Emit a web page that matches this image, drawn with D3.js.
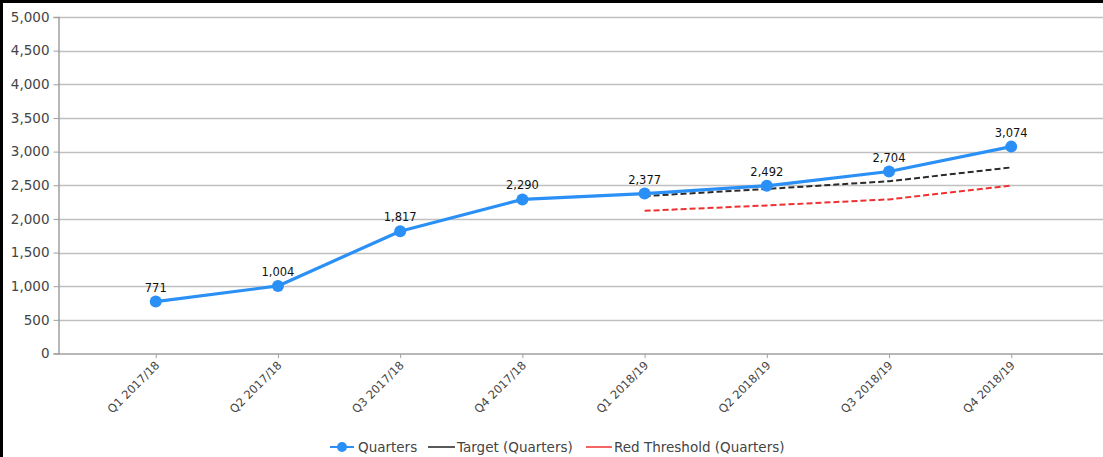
<!DOCTYPE html>
<html>
<head>
<meta charset="utf-8">
<script src="https://cdn.jsdelivr.net/npm/d3@7"></script>
<style>
  html, body { margin: 0; padding: 0; background: #fff; }
  svg { display: block; }
</style>
</head>
<body>
<svg id="chart" width="1103" height="457"></svg>
<script>
// Quarterly figures with target and red threshold for the 2018/19 quarters
const categories = ["Q1 2017/18", "Q2 2017/18", "Q3 2017/18", "Q4 2017/18",
                    "Q1 2018/19", "Q2 2018/19", "Q3 2018/19", "Q4 2018/19"];
const quarters = [771, 1004, 1817, 2290, 2377, 2492, 2704, 3074];
const targetCats = ["Q1 2018/19", "Q2 2018/19", "Q3 2018/19", "Q4 2018/19"];
const target = [2340, 2445, 2560, 2765];
const redThreshold = [2120, 2200, 2290, 2495];
const yTicks = [0, 500, 1000, 1500, 2000, 2500, 3000, 3500, 4000, 4500, 5000];
const legendItems = ["Quarters", "Target (Quarters)", "Red Threshold (Quarters)"];

const W = 1103, H = 457;
const svg = d3.select("#chart");
const font = "DejaVu Sans, Verdana, sans-serif";

const plotLeft = 58, plotTop = 17, plotBottom = 353.5;
const x = d3.scalePoint().domain(categories).range([plotLeft, 1109]).padding(0.8);
const y = d3.scaleLinear().domain([0, 5000]).range([plotBottom, plotTop]);

// Outer frame (top and left edges)
svg.append("rect").attr("x", 0).attr("y", 0).attr("width", W).attr("height", 3).attr("fill", "#000");
svg.append("rect").attr("x", 0).attr("y", 0).attr("width", 3).attr("height", H).attr("fill", "#000");

// Horizontal gridlines
svg.append("g").selectAll("line").data(yTicks.filter(d => d > 0)).join("line")
  .attr("x1", plotLeft).attr("x2", W)
  .attr("y1", d => Math.round(y(d)) + 0.5).attr("y2", d => Math.round(y(d)) + 0.5)
  .attr("stroke", "#c0c0c0").attr("stroke-width", 1.3);

// Y axis
const yAxis = svg.append("g").attr("transform", `translate(${plotLeft + 0.5},0)`)
  .call(d3.axisLeft(y).tickValues(yTicks).tickFormat(d3.format(",")).tickSizeOuter(0).tickSize(5));
yAxis.select(".domain").attr("stroke", "#a0a0a0").attr("stroke-width", 1.5);
yAxis.selectAll(".tick line").attr("stroke", "#a0a0a0");
yAxis.selectAll(".tick text").attr("font-family", font).attr("font-size", 13.5)
  .attr("fill", "#444").attr("x", -9);

// X axis
const xAxis = svg.append("g").attr("transform", `translate(0,${plotBottom + 0.5})`)
  .call(d3.axisBottom(x).tickSizeOuter(0).tickSize(4));
xAxis.select(".domain").attr("d", `M${plotLeft},0H${W}`).attr("stroke", "#a0a0a0").attr("stroke-width", 1.5);
xAxis.selectAll(".tick line").attr("stroke", "#a0a0a0");
xAxis.selectAll(".tick text")
  .attr("font-family", font).attr("font-size", 11.5).attr("fill", "#444")
  .attr("text-anchor", "end").attr("dy", null).attr("y", 0)
  .attr("transform", "translate(4,12) rotate(-45)");

// Target and red threshold lines (dashed)
const line = d3.line().x((d, i) => x(targetCats[i])).y(d => y(d));
svg.append("path").datum(redThreshold).attr("d", line)
  .attr("fill", "none").attr("stroke", "#f03030").attr("stroke-width", 2)
  .attr("stroke-dasharray", "6,3");
svg.append("path").datum(target).attr("d", line)
  .attr("fill", "none").attr("stroke", "#2a2a2a").attr("stroke-width", 2)
  .attr("stroke-dasharray", "6,3");

// Main quarters series
const mainLine = d3.line().x((d, i) => x(categories[i])).y(d => y(d));
svg.append("path").datum(quarters).attr("d", mainLine)
  .attr("fill", "none").attr("stroke", "#2a90f5").attr("stroke-width", 3.2)
  .attr("stroke-linejoin", "round");
svg.append("g").selectAll("circle").data(quarters).join("circle")
  .attr("cx", (d, i) => x(categories[i])).attr("cy", d => y(d)).attr("r", 6)
  .attr("fill", "#2a90f5");

// Value labels
svg.append("g").selectAll("text").data(quarters).join("text")
  .attr("x", (d, i) => x(categories[i])).attr("y", d => y(d) - 10)
  .attr("text-anchor", "middle").attr("font-family", font).attr("font-size", 11.5)
  .attr("fill", "#111").text(d => d3.format(",")(d));

// Legend
const ly = 447;
const lg = svg.append("g").attr("font-family", font).attr("font-size", 13.5).attr("fill", "#444");
lg.append("line").attr("x1", 330).attr("x2", 354).attr("y1", ly).attr("y2", ly)
  .attr("stroke", "#2a90f5").attr("stroke-width", 2);
lg.append("circle").attr("cx", 342).attr("cy", ly).attr("r", 5).attr("fill", "#2a90f5");
lg.append("text").attr("x", 358).attr("y", ly + 5).text(legendItems[0]);
lg.append("line").attr("x1", 428).attr("x2", 455).attr("y1", ly).attr("y2", ly)
  .attr("stroke", "#222").attr("stroke-width", 1.5);
lg.append("text").attr("x", 457).attr("y", ly + 5).text(legendItems[1]);
lg.append("line").attr("x1", 586).attr("x2", 612).attr("y1", ly).attr("y2", ly)
  .attr("stroke", "#f03030").attr("stroke-width", 1.5);
lg.append("text").attr("x", 614).attr("y", ly + 5).text(legendItems[2]);
</script>
</body>
</html>
